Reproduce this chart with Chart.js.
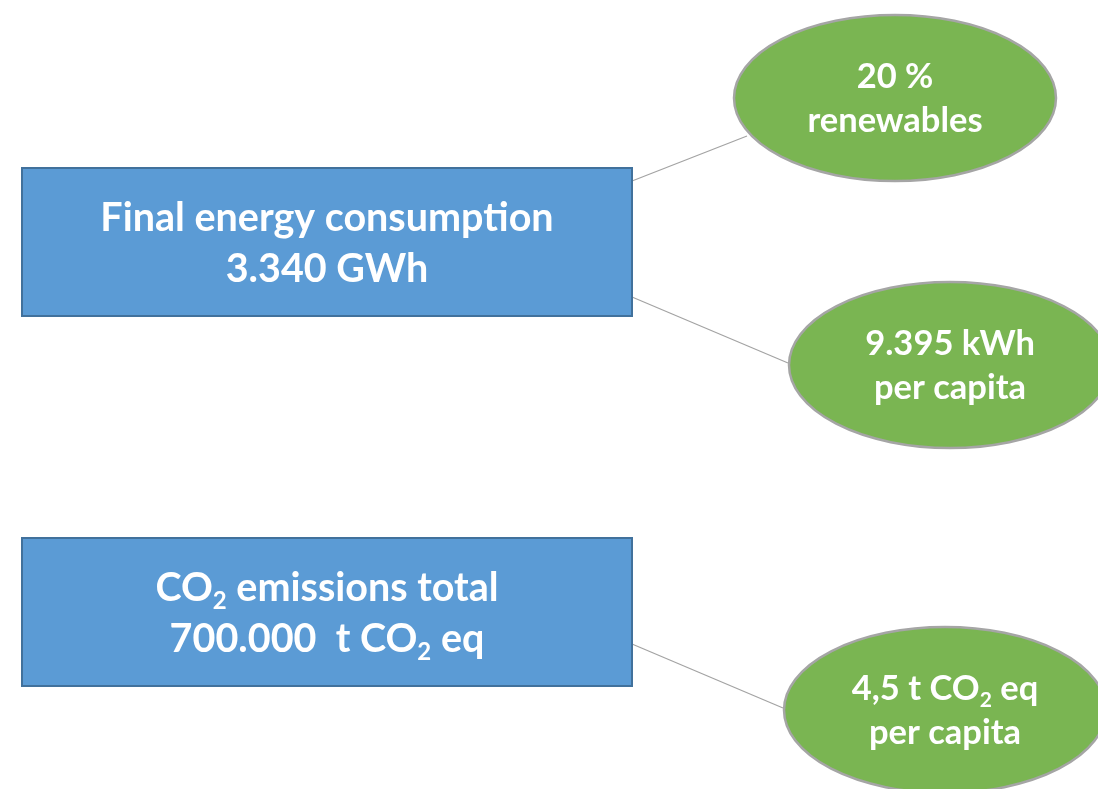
<!DOCTYPE html>
<html>
<head>
<meta charset="utf-8">
<script src="https://cdn.jsdelivr.net/npm/chart.js@4/dist/chart.umd.min.js"></script>
<style>
  html, body { margin: 0; padding: 0; background: #fff; }
  #wrap { position: relative; width: 1098px; height: 789px; }
</style>
</head>
<body>
<div id="wrap"><canvas id="diagram"></canvas></div>
<script>
// Node texts ({2} = subscript)
const boxLabels = [
    ['Final energy consumption', '3.340 GWh'],
    ['CO{2} emissions total', '700.000  t CO{2} eq']
];
const ovalLabels = [
    ['20 %', 'renewables'],
    ['9.395 kWh', 'per capita'],
    ['4,5 t CO{2} eq', 'per capita']
];

// Node centres in diagram units
const boxX = [327, 327];
const boxY = [242, 612];
const ovalX = [895, 950, 945];
const ovalY = [98, 365, 710];

// Connector end points
const linkFromX = [632, 632, 632];
const linkFromY = [181, 297, 644];
const linkToX = [747, 788, 783];
const linkToY = [136, 363, 708];

const BOX_W = 610, BOX_H = 148;
const OVAL_RX = 161, OVAL_RY = 83;
const FONT = 'Lato, "Open Sans", sans-serif';

document.addEventListener('DOMContentLoaded', function() {
    const ctx = document.getElementById('diagram').getContext('2d');

    const linkSets = linkFromX.map((fx, i) => ({
        label: 'link' + i,
        data: [{ x: fx, y: linkFromY[i] }, { x: linkToX[i], y: linkToY[i] }],
        showLine: true,
        borderColor: '#a3a3a3',
        borderWidth: 1.2,
        pointRadius: 0,
        order: 3
    }));

    // draw one text line, handling {n} subscripts
    function drawRich(c, text, cx, baseline, size) {
        const parts = text.split(/(\{[^}]*\})/).filter(s => s.length);
        const subSize = Math.round(size * 0.62);
        let total = 0;
        const segs = parts.map(p => {
            const sub = p[0] === '{';
            const t = sub ? p.slice(1, -1) : p;
            c.font = 'bold ' + (sub ? subSize : size) + 'px ' + FONT;
            const w = c.measureText(t).width;
            total += w;
            return { t, sub, w };
        });
        let x = cx - total / 2;
        segs.forEach(s => {
            c.font = 'bold ' + (s.sub ? subSize : size) + 'px ' + FONT;
            c.fillText(s.t, x, baseline + (s.sub ? size * 0.2 : 0));
            x += s.w;
        });
    }

    function drawLines(c, lines, cx, cy, size, lh) {
        c.fillStyle = '#ffffff';
        c.textAlign = 'left';
        c.textBaseline = 'alphabetic';
        lines.forEach((ln, i) => {
            const base = cy + (i - (lines.length - 1) / 2) * lh + size * 0.36;
            drawRich(c, ln, cx, base, size);
        });
    }

    const nodesPlugin = {
        id: 'nodes',
        afterDatasetsDraw(chart) {
            const c = chart.ctx;
            const xs = chart.scales.x, ys = chart.scales.y;
            c.save();
            // boxes
            boxX.forEach((bx, i) => {
                const l = xs.getPixelForValue(bx - BOX_W / 2);
                const r = xs.getPixelForValue(bx + BOX_W / 2);
                const t = ys.getPixelForValue(boxY[i] - BOX_H / 2);
                const b = ys.getPixelForValue(boxY[i] + BOX_H / 2);
                c.fillStyle = '#5b9bd5';
                c.fillRect(l, t, r - l, b - t);
                c.strokeStyle = '#41719c';
                c.lineWidth = 2;
                c.strokeRect(l, t, r - l, b - t);
                drawLines(c, boxLabels[i], xs.getPixelForValue(bx), ys.getPixelForValue(boxY[i]), 39.5, 51);
            });
            // ovals
            ovalX.forEach((ox, i) => {
                const px = xs.getPixelForValue(ox), py = ys.getPixelForValue(ovalY[i]);
                const rx = xs.getPixelForValue(ox + OVAL_RX) - px;
                const ry = ys.getPixelForValue(ovalY[i] + OVAL_RY) - py;
                c.beginPath();
                c.ellipse(px, py, Math.abs(rx), Math.abs(ry), 0, 0, Math.PI * 2);
                c.fillStyle = '#7ab552';
                c.fill();
                c.strokeStyle = '#a5a5a5';
                c.lineWidth = 2.5;
                c.stroke();
                drawLines(c, ovalLabels[i], px, py, 34.5, 44);
            });
            c.restore();
        }
    };

    new Chart(ctx, {
        type: 'scatter',
        data: {
            datasets: linkSets.concat([
                { label: 'boxes', data: boxX.map((x, i) => ({ x, y: boxY[i] })), pointRadius: 0, order: 1 },
                { label: 'ovals', data: ovalX.map((x, i) => ({ x, y: ovalY[i] })), pointRadius: 0, order: 1 }
            ])
        },
        options: {
            responsive: true,
            maintainAspectRatio: false,
            animation: false,
            events: [],
            layout: { padding: 0 },
            plugins: {
                legend: { display: false },
                tooltip: { enabled: false }
            },
            scales: {
                x: { type: 'linear', min: 0, max: 1098, display: false },
                y: { type: 'linear', min: 0, max: 789, reverse: true, display: false }
            }
        },
        plugins: [nodesPlugin]
    });
});
</script>
</body>
</html>
